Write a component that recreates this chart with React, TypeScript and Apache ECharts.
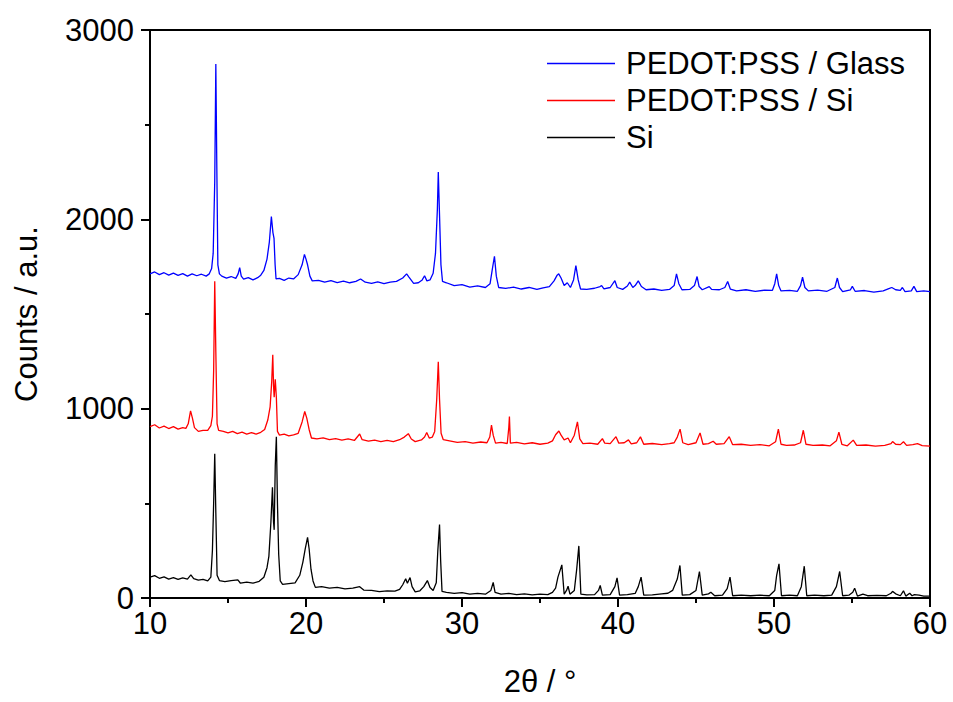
import React, { useEffect, useRef } from "react";
import * as echarts from "echarts";

const xTickLabels = ["10", "20", "30", "40", "50", "60"];
const yTickLabels = ["0", "1000", "2000", "3000"];
const seriesNames = ["PEDOT:PSS / Glass", "PEDOT:PSS / Si", "Si"];
const seriesColors = ["#0000ff", "#ff0000", "#000000"];

const glassData: number[][] = [
  [10.0,1712],[10.3,1722],[10.6,1708],[10.9,1718],[11.2,1705],[11.5,1716],[11.8,1704],[12.1,1713],[12.4,1700],[12.7,1712],[13.0,1702],[13.3,1710],[13.6,1700],[13.8,1712],[13.95,1740],[14.05,1820],[14.15,2200],[14.22,2820],[14.28,2300],[14.35,1760],[14.45,1712],[14.6,1700],[14.9,1690],[15.2,1698],[15.5,1688],[15.65,1712],[15.75,1745],[15.85,1700],[16.0,1684],[16.3,1692],[16.6,1680],[16.9,1692],[17.1,1705],[17.3,1730],[17.5,1790],[17.65,1880],[17.78,2015],[17.88,1930],[17.95,1900],[18.02,1760],[18.08,1685],[18.3,1688],[18.6,1678],[18.9,1690],[19.2,1685],[19.5,1708],[19.75,1760],[19.9,1815],[20.0,1790],[20.1,1760],[20.25,1700],[20.4,1675],[20.8,1678],[21.2,1668],[21.6,1676],[22.0,1666],[22.4,1674],[22.8,1665],[23.2,1672],[23.5,1685],[23.8,1668],[24.2,1662],[24.6,1670],[25.0,1660],[25.4,1668],[25.8,1672],[26.2,1690],[26.45,1712],[26.6,1695],[26.9,1662],[27.2,1665],[27.45,1680],[27.6,1702],[27.75,1675],[27.95,1680],[28.15,1715],[28.3,1820],[28.42,2050],[28.48,2250],[28.55,2050],[28.65,1760],[28.75,1672],[29.0,1665],[29.5,1650],[30.0,1655],[30.5,1642],[31.0,1648],[31.5,1640],[31.8,1660],[31.95,1740],[32.08,1805],[32.2,1700],[32.35,1640],[32.8,1635],[33.3,1642],[33.8,1632],[34.3,1640],[34.8,1630],[35.2,1638],[35.6,1645],[35.9,1675],[36.1,1705],[36.2,1712],[36.35,1690],[36.55,1650],[36.75,1665],[36.95,1640],[37.15,1680],[37.3,1755],[37.45,1680],[37.6,1632],[38.0,1630],[38.5,1636],[38.85,1645],[38.95,1650],[39.1,1633],[39.5,1640],[39.8,1676],[39.95,1640],[40.3,1630],[40.6,1648],[40.75,1668],[40.95,1640],[41.1,1650],[41.3,1675],[41.5,1645],[41.8,1628],[42.3,1632],[42.8,1625],[43.3,1630],[43.6,1650],[43.75,1712],[43.9,1660],[44.1,1628],[44.6,1630],[44.9,1650],[45.07,1698],[45.2,1645],[45.4,1628],[45.85,1645],[46.0,1630],[46.5,1628],[46.85,1640],[47.03,1672],[47.2,1632],[47.6,1622],[48.2,1628],[48.8,1620],[49.4,1626],[49.9,1625],[50.05,1660],[50.17,1712],[50.3,1650],[50.45,1622],[51.0,1625],[51.5,1620],[51.7,1650],[51.83,1694],[51.98,1640],[52.2,1622],[52.8,1626],[53.4,1620],[53.9,1640],[54.06,1690],[54.2,1640],[54.4,1618],[54.9,1628],[55.02,1646],[55.2,1620],[55.8,1624],[56.4,1616],[57.0,1622],[57.4,1635],[57.55,1640],[57.8,1628],[58.1,1625],[58.23,1640],[58.4,1618],[58.8,1622],[58.97,1646],[59.15,1618],[59.6,1622],[60.0,1618]
];

const pedotSiData: number[][] = [
  [10.0,905],[10.3,915],[10.6,898],[10.9,908],[11.2,895],[11.5,905],[11.8,892],[12.1,900],[12.3,896],[12.45,920],[12.6,988],[12.72,950],[12.85,900],[13.1,880],[13.4,885],[13.7,885],[13.9,910],[14.0,960],[14.08,1200],[14.15,1673],[14.22,1300],[14.3,920],[14.4,885],[14.7,880],[15.0,872],[15.3,880],[15.6,868],[15.9,876],[16.2,866],[16.5,874],[16.8,866],[17.1,875],[17.35,890],[17.55,940],[17.7,1010],[17.8,1140],[17.87,1285],[17.92,1120],[17.96,1060],[18.03,1155],[18.1,1060],[18.17,880],[18.3,860],[18.6,866],[18.9,856],[19.2,862],[19.5,870],[19.75,930],[19.92,985],[20.05,950],[20.2,890],[20.35,845],[20.7,840],[21.1,846],[21.5,836],[21.9,842],[22.3,834],[22.7,840],[23.1,832],[23.44,866],[23.6,836],[24.0,828],[24.4,834],[24.8,826],[25.2,832],[25.6,826],[26.0,836],[26.3,850],[26.56,868],[26.75,840],[27.0,826],[27.4,835],[27.6,850],[27.74,874],[27.9,845],[28.1,850],[28.25,880],[28.38,1050],[28.48,1248],[28.56,1050],[28.66,870],[28.8,836],[29.2,830],[29.7,822],[30.2,826],[30.7,818],[31.2,824],[31.6,820],[31.78,850],[31.89,913],[32.0,860],[32.15,818],[32.5,822],[32.9,816],[33.0,900],[33.04,958],[33.1,818],[33.5,822],[34.0,814],[34.5,820],[35.0,812],[35.5,818],[35.8,830],[36.0,862],[36.21,882],[36.35,860],[36.55,835],[36.8,845],[36.95,820],[37.2,860],[37.4,930],[37.55,840],[37.75,815],[38.2,818],[38.7,812],[39.0,842],[39.15,818],[39.5,815],[39.87,852],[40.05,818],[40.4,820],[40.67,835],[40.85,814],[41.2,820],[41.44,851],[41.65,812],[42.2,816],[42.8,810],[43.3,815],[43.6,820],[43.8,850],[43.98,892],[44.15,820],[44.5,810],[45.0,820],[45.26,872],[45.45,812],[45.8,815],[46.1,828],[46.3,812],[46.8,815],[47.13,852],[47.35,810],[47.9,812],[48.5,806],[49.1,810],[49.7,804],[50.1,825],[50.28,892],[50.45,812],[50.8,806],[51.3,808],[51.7,820],[51.88,886],[52.05,812],[52.5,806],[53.1,808],[53.6,804],[54.0,830],[54.16,876],[54.35,812],[54.7,804],[55.08,834],[55.3,806],[55.9,808],[56.5,802],[57.1,806],[57.5,815],[57.6,826],[57.8,812],[58.1,810],[58.3,825],[58.5,806],[58.9,810],[59.2,815],[59.5,805],[60.0,802]
];

const siData: number[][] = [
  [10.0,110],[10.3,118],[10.6,104],[10.9,112],[11.2,100],[11.5,108],[11.8,98],[12.1,106],[12.4,100],[12.62,122],[12.8,102],[13.1,94],[13.4,98],[13.7,90],[13.9,110],[14.0,250],[14.08,500],[14.15,762],[14.22,450],[14.3,120],[14.45,92],[14.8,86],[15.2,92],[15.63,96],[15.8,78],[16.2,84],[16.6,78],[17.0,88],[17.3,110],[17.5,160],[17.62,220],[17.75,400],[17.85,585],[17.92,400],[17.96,360],[18.03,700],[18.1,852],[18.17,500],[18.25,230],[18.35,90],[18.5,72],[18.9,76],[19.3,80],[19.6,120],[19.8,190],[19.95,260],[20.1,320],[20.2,260],[20.32,152],[20.45,90],[20.6,56],[21.0,60],[21.5,52],[22.0,56],[22.5,48],[23.0,52],[23.44,60],[23.7,42],[24.2,40],[24.7,34],[25.2,38],[25.7,36],[26.0,45],[26.2,70],[26.39,102],[26.5,78],[26.67,108],[26.8,60],[27.0,32],[27.3,38],[27.55,60],[27.78,92],[27.95,55],[28.15,40],[28.35,80],[28.45,250],[28.56,388],[28.63,200],[28.72,35],[29.0,30],[29.5,24],[30.0,28],[30.5,20],[31.0,24],[31.5,20],[31.85,40],[32.0,82],[32.12,30],[32.5,20],[33.0,24],[33.5,18],[34.0,22],[34.5,17],[35.0,20],[35.5,18],[35.8,30],[36.0,52],[36.15,110],[36.4,175],[36.55,20],[36.7,40],[36.8,62],[36.92,20],[37.2,40],[37.35,150],[37.49,275],[37.62,20],[38.0,17],[38.5,18],[38.75,40],[38.86,66],[39.0,15],[39.5,18],[39.8,60],[39.94,106],[40.1,15],[40.6,18],[41.1,24],[41.3,60],[41.48,110],[41.65,15],[42.2,17],[42.8,22],[43.2,25],[43.5,40],[43.8,100],[43.97,172],[44.12,15],[44.6,18],[45.0,40],[45.22,140],[45.4,15],[45.8,22],[45.95,30],[46.2,12],[46.7,15],[47.0,50],[47.18,110],[47.35,12],[47.9,15],[48.5,12],[49.1,15],[49.7,12],[50.05,40],[50.17,120],[50.32,180],[50.48,12],[51.0,15],[51.5,12],[51.75,60],[51.94,168],[52.1,12],[52.6,15],[53.2,12],[53.7,15],[54.0,60],[54.21,140],[54.4,12],[54.8,15],[55.05,30],[55.17,52],[55.35,10],[55.7,20],[56.0,12],[56.6,14],[57.2,12],[57.5,25],[57.6,35],[57.8,22],[58.1,12],[58.3,38],[58.45,10],[58.7,25],[58.85,12],[59.0,18],[59.3,15],[59.6,10],[60.0,10]
];

const FONT = "'Liberation Sans', Arial, Helvetica, sans-serif";

export default function App() {
  const ref = useRef<HTMLDivElement>(null);
  useEffect(() => {
    if (!ref.current) return;
    const chart = echarts.init(ref.current, undefined, { renderer: "svg" });
    const datasets = [glassData, pedotSiData, siData];
    chart.setOption({
      animation: false,
      backgroundColor: "#ffffff",
      textStyle: { fontFamily: FONT },
      grid: {
        left: 150, right: 23, top: 30, bottom: 102,
        show: true, borderColor: "#000", borderWidth: 2, backgroundColor: "transparent",
      },
      legend: {
        orient: "vertical",
        left: 542,
        top: 40,
        itemWidth: 68,
        itemHeight: 1.5,
        itemGap: 0,
        icon: "rect",
        data: seriesNames.map((n, i) => ({
          name: n,
          icon: "rect",
          itemStyle: { color: seriesColors[i], borderWidth: 0, opacity: 1 },
        })),
        textStyle: { fontSize: 31, color: "#000", fontFamily: FONT, lineHeight: 37, padding: [0, 0, 0, 6] },
      },
      xAxis: {
        type: "value",
        min: 10, max: 60, interval: 10,
        name: "2θ / °",
        nameLocation: "middle",
        nameGap: 68,
        nameTextStyle: { fontSize: 31, color: "#000", fontFamily: FONT },
        axisLine: { show: true, lineStyle: { color: "#000", width: 2 } },
        axisTick: { show: true, inside: false, length: 9, lineStyle: { color: "#000", width: 2 } },
        minorTick: { show: true, splitNumber: 2, length: 5, lineStyle: { color: "#000", width: 2 } },
        axisLabel: {
          fontSize: 31, color: "#000", margin: 10, fontFamily: FONT,
          formatter: (v: number) => xTickLabels[xTickLabels.indexOf(String(v))] ?? "",
        },
        splitLine: { show: false },
      },
      yAxis: {
        type: "value",
        min: 0, max: 3000, interval: 1000,
        name: "Counts / a.u.",
        nameLocation: "middle",
        nameGap: 108,
        nameTextStyle: { fontSize: 31, color: "#000", fontFamily: FONT },
        axisLine: { show: true, lineStyle: { color: "#000", width: 2 } },
        axisTick: { show: true, inside: false, length: 9, lineStyle: { color: "#000", width: 2 } },
        minorTick: { show: true, splitNumber: 2, length: 5, lineStyle: { color: "#000", width: 2 } },
        axisLabel: {
          fontSize: 31, color: "#000", margin: 16, fontFamily: FONT,
          formatter: (v: number) => yTickLabels[yTickLabels.indexOf(String(v))] ?? "",
        },
        splitLine: { show: false },
      },
      series: seriesNames.map((name, i) => ({
        name,
        type: "line",
        data: datasets[i],
        symbol: "none",
        color: seriesColors[i],
        lineStyle: { color: seriesColors[i], width: 1.3 },
        itemStyle: { color: seriesColors[i] },
        z: 3 - i,
      })),
    });
    return () => chart.dispose();
  }, []);
  return (
    <div
      ref={ref}
      style={{ position: "absolute", left: 0, top: 0, width: 953, height: 702, background: "#fff" }}
    />
  );
}
